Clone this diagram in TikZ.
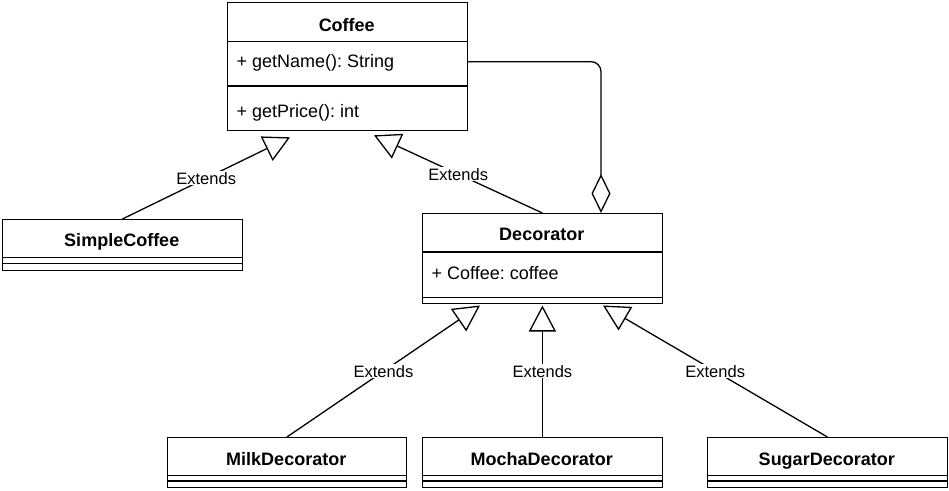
\documentclass[tikz,border=0pt]{standalone}
\usepackage{fontspec}
\setmainfont{Liberation Sans}
\usetikzlibrary{arrows.meta}
\frenchspacing
\begin{document}
\begin{tikzpicture}[x=1pt,y=-1pt,line width=1.3pt,
  classbox/.style={draw, rectangle, inner sep=0pt, anchor=north west, minimum width=239.5pt},
  cname/.style={font=\bfseries\fontsize{18}{21}\selectfont, anchor=base, inner sep=0pt},
  attr/.style={font=\fontsize{18}{21}\selectfont, anchor=base west, inner sep=0pt},
  lbl/.style={font=\fontsize{16.5}{19}\selectfont, fill=white, inner sep=1pt},
  extends/.style={-{Triangle[open,length=26pt,width=27pt]}},
  aggr/.style={{Diamond[open,length=39pt,width=19pt]}-}]
\useasboundingbox (0,0) rectangle (949,490);

% Coffee
\node[classbox, minimum height=128pt] (coffee) at (227,2) {};
\draw (227,41.7) -- (466.5,41.7);
\draw (227,86) -- (466.5,86);
\node[cname] (coffeeName) at (346.75,31) {Coffee};
\node[attr] (coffeeA1) at (236,67.7) {+ getName(): String};
\node[attr] (coffeeA2) at (236,117.7) {+ getPrice(): int};

% SimpleCoffee
\node[classbox, minimum height=51pt] (simple) at (2,219) {};
\draw (2,257.7) -- (241.5,257.7);
\draw (2,263.5) -- (241.5,263.5);
\node[cname] (simpleName) at (121.75,246.7) {SimpleCoffee};

% Decorator
\node[classbox, minimum height=89.7pt] (deco) at (422,213) {};
\draw (422,252) -- (661.5,252);
\draw (422,297.3) -- (661.5,297.3);
\node[cname] (decoName) at (541.75,240.7) {Decorator};
\node[attr] (decoA1) at (431,279.3) {+ Coffee: coffee};

% Milk
\node[classbox, minimum height=50pt] (milk) at (166.5,437) {};
\draw (166.5,475.6) -- (406,475.6);
\draw (166.5,481) -- (406,481);
\node[cname] (milkName) at (286.25,465) {MilkDecorator};

% Mocha
\node[classbox, minimum height=50pt] (mocha) at (422,437) {};
\draw (422,475.6) -- (661.5,475.6);
\draw (422,481) -- (661.5,481);
\node[cname] (mochaName) at (541.75,465) {MochaDecorator};

% Sugar
\node[classbox, minimum height=50pt] (sugar) at (707,437) {};
\draw (707,475.6) -- (946.5,475.6);
\draw (707,481) -- (946.5,481);
\node[cname] (sugarName) at (826.75,465) {SugarDecorator};

% end points
\coordinate (coffeeT1) at ([xshift=63pt,yshift=-6pt]coffee.south west);
\coordinate (coffeeT2) at ([xshift=147pt,yshift=-4pt]coffee.south west);
\coordinate (decoT1) at ([xshift=58pt,yshift=-1.5pt]deco.south west);
\coordinate (decoT2) at ([yshift=-1.5pt]deco.south);
\coordinate (decoT3) at ([xshift=181pt,yshift=-1.5pt]deco.south west);

% connectors
\draw[extends] (simple.north) -- node[lbl] (lbl1) {Extends} (coffeeT1);
\draw[extends] (deco.north) -- node[lbl] (lbl2) {Extends} (coffeeT2);
\draw[extends] (milk.north) -- node[lbl] (lbl3) {Extends} (decoT1);
\draw[extends] (mocha.north) -- node[lbl] (lbl4) {Extends} (decoT2);
\draw[extends] (sugar.north) -- node[lbl] (lbl5) {Extends} (decoT3);
\draw[aggr, rounded corners=10pt] ([xshift=179pt]deco.north west) |- ([yshift=5pt]coffee.east);
\end{tikzpicture}
\end{document}
